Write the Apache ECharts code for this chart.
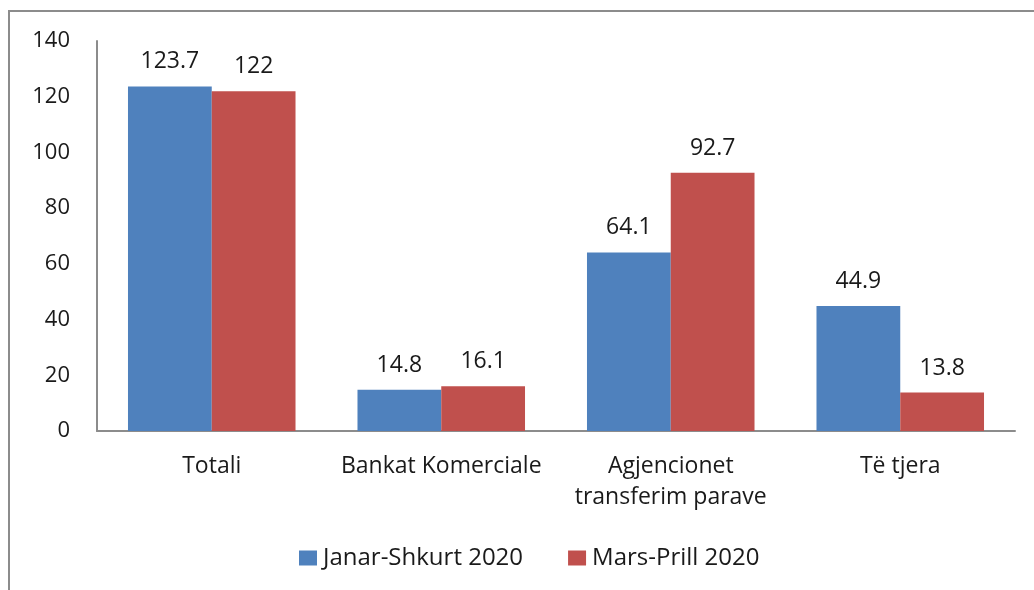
<!DOCTYPE html>
<html>
<head>
<meta charset="utf-8">
<style>
    html, body { margin: 0; padding: 0; background: #fff; }
    #frame { position: absolute; left: 8px; top: 10px; width: 1040px; height: 600px;
             border-left: 2px solid #8c8c8c; border-top: 2px solid #8c8c8c; }
    #chart { position: absolute; left: 0; top: 0; width: 1034px; height: 590px; }
</style>
</head>
<body>
<div id="frame"></div>
<div id="chart"></div>
<script src="https://cdn.jsdelivr.net/npm/echarts@6/dist/echarts.min.js"></script>
<script>
    var categories = ['Totali', 'Bankat Komerciale', 'Agjencionet\ntransferim parave', 'Të tjera'];
    var janarShkurt = [123.7, 14.8, 64.1, 44.9];
    var marsPrill = [122, 16.1, 92.7, 13.8];
    var seriesNames = ['Janar-Shkurt 2020', 'Mars-Prill 2020'];
    var yTicks = { min: 0, max: 140, interval: 20 };

    var font = '"Open Sans", "Noto Sans", sans-serif';
    var txt = '#1a1a1a';

    var myChart = echarts.init(document.getElementById('chart'));
    //柱状图
    function barSeries(name, data, color) {
        return {
            name: name,
            type: 'bar',
            data: data,
            barGap: '0%',
            barCategoryGap: '27%',
            itemStyle: { color: color },
            label: {
                show: true,
                position: 'top',
                distance: 13,
                color: txt,
                fontSize: 23,
                fontFamily: font
            }
        };
    }
    myChart.setOption({
        animation: false,
        grid: { left: 97, right: 19, top: 41, bottom: 159 },
        legend: {
            data: seriesNames,
            left: 294,
            top: 541,
            itemWidth: 18,
            itemHeight: 15,
            itemGap: 45,
            icon: 'rect',
            textStyle: { color: txt, fontSize: 24, fontFamily: font, padding: [0, 0, 0, 1] }
        },
        xAxis: {
            type: 'category',
            data: categories,
            axisLine: { lineStyle: { color: '#8c8c8c', width: 2 } },
            axisTick: { show: false },
            axisLabel: { color: txt, fontSize: 23, fontFamily: font, margin: 20, lineHeight: 31,
                         interval: 0, hideOverlap: false }
        },
        yAxis: {
            type: 'value',
            min: yTicks.min,
            max: yTicks.max,
            interval: yTicks.interval,
            splitLine: { show: false },
            axisLine: { show: true, lineStyle: { color: '#8c8c8c', width: 2 } },
            axisTick: { show: false },
            axisLabel: { color: txt, fontSize: 22, fontFamily: font, margin: 27 }
        },
        series: [
            barSeries(seriesNames[0], janarShkurt, '#4f81bd'),
            barSeries(seriesNames[1], marsPrill, '#c0504d')
        ]
    });
</script>
</body>
</html>
